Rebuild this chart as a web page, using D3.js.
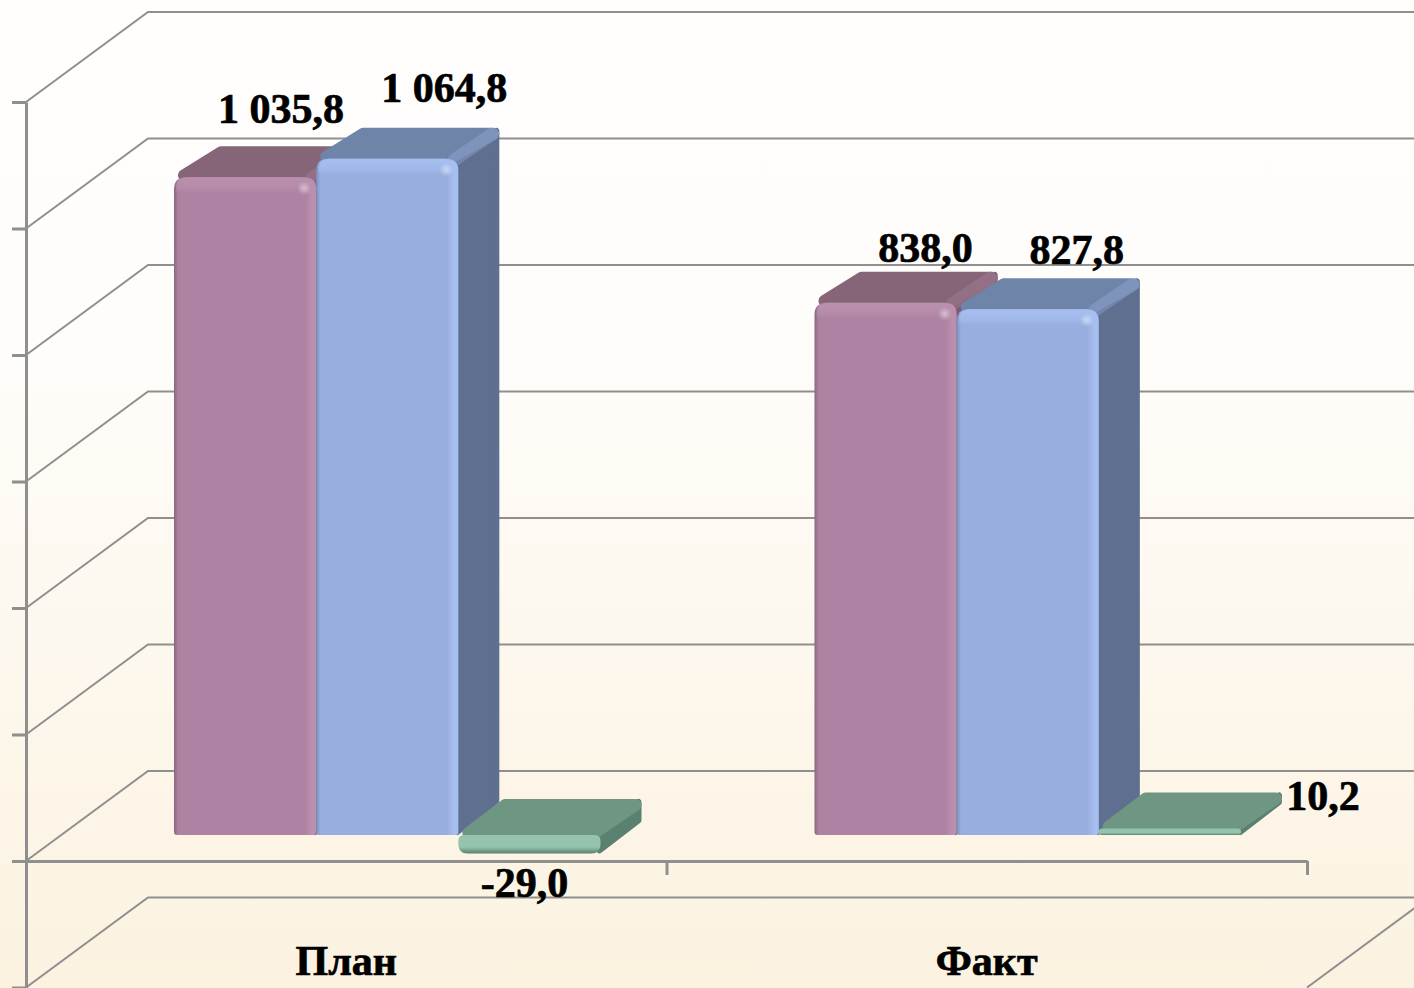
<!DOCTYPE html>
<html>
<head>
<meta charset="utf-8">
<script src="https://cdn.jsdelivr.net/npm/d3@7"></script>
<style>
  html, body { margin: 0; padding: 0; background: #fff; overflow: hidden; }
  svg { display: block; }
  text { font-family: "Liberation Serif", serif; font-weight: bold; font-size: 42px; fill: #000; stroke: #000; stroke-width: 0.7px; }
  .axis path, .axis line { stroke: #8f8f8f; stroke-width: 3; }
  .grid { fill: none; stroke: #8f8f8f; stroke-width: 2; }
</style>
</head>
<body>
<svg id="chart" width="1414" height="988"></svg>
<script>
// Values
const categories = ['План', 'Факт'];
const seriesNames = ['a', 'b', 'c'];
const planValues = [1035.8, 1064.8, -29.0];
const factValues = [838.0, 827.8, 10.2];
const valuesByCategory = [planValues, factValues];
const labelTexts = [['1 035,8', '1 064,8', '-29,0'], ['838,0', '827,8', '10,2']];
const wallTicks = [-200, 0, 200, 400, 600, 800, 1000, 1200];

// Look of each series
const palette = [
  { front: '#ad82a2', light: '#bb8fae', top: '#866579', side: '#7a5c70', dark: '#8a6680' },
  { front: '#98aede', light: '#a6bef0', top: '#6f84a9', side: '#5f6f8f', dark: '#7a8fbc' },
  { front: '#95c4ae', light: '#a0d0b9', top: '#6e9683', side: '#5a8070', dark: '#75a08c' }
];

// Label shifts: x from the centre of the front face, y from the top of the bar's back edge
// (from the bottom of the front face for the negative bar)
const labelShift = [
  [[36, -23], [57, -26], [-5, 44]],
  [[40, -10], [49, -14], [153, 17]]
];

const width = 1414, height = 988;
const wallLeft = 26, wallRight = 1307;
const wallDepth = { x: 122, y: 90 };
const barDepth = { x: 41, y: [31, 31, 36] };
const barShift = 41;

const svg = d3.select('#chart');
const defs = svg.append('defs');

// Background
const bg = defs.append('linearGradient').attr('id', 'bg').attr('x1', 0).attr('y1', 0).attr('x2', 0).attr('y2', 1);
bg.append('stop').attr('offset', '0%').attr('stop-color', '#fffefd');
bg.append('stop').attr('offset', '35%').attr('stop-color', '#fffdfa');
bg.append('stop').attr('offset', '100%').attr('stop-color', '#fbf2e0');
svg.append('rect').attr('width', width).attr('height', height).attr('fill', 'url(#bg)');

// Scales
const yWall = d3.scaleLinear().domain([-200, 1200]).range([987.5, 102]);
const yBar = d3.scaleLinear().domain([0, 1200]).range([835, 73]);
const xEdge = d3.scaleLinear().domain([0, categories.length]).range([wallLeft, wallRight]);
const xCat = d3.scaleBand().domain(categories).range([wallLeft, wallRight]);
const xSeries = d3.scaleBand().domain(seriesNames).range([107, xCat.bandwidth() - 107]);

// Gradients for the bevelled front faces
palette.forEach((c, i) => {
  const g = defs.append('linearGradient').attr('id', `front${i}`).attr('x1', 0).attr('x2', 1).attr('y1', 0).attr('y2', 0);
  [[0, c.dark], [0.03, c.front], [0.92, c.front], [0.97, c.light], [1, c.light]].forEach(s => {
    g.append('stop').attr('offset', s[0]).attr('stop-color', s[1]);
  });
  const h = defs.append('linearGradient').attr('id', `shine${i}`).attr('x1', 0).attr('x2', 0).attr('y1', 0).attr('y2', 1);
  h.append('stop').attr('offset', 0).attr('stop-color', c.light).attr('stop-opacity', 1);
  h.append('stop').attr('offset', 0.6).attr('stop-color', c.light).attr('stop-opacity', 0.7);
  h.append('stop').attr('offset', 1).attr('stop-color', c.light).attr('stop-opacity', 0);
  const low = defs.append('linearGradient').attr('id', `low${i}`).attr('x1', 0).attr('x2', 0).attr('y1', 0).attr('y2', 1);
  low.append('stop').attr('offset', 0).attr('stop-color', c.front);
  low.append('stop').attr('offset', 0.65).attr('stop-color', c.front);
  low.append('stop').attr('offset', 1).attr('stop-color', c.side);
});
const spec = defs.append('radialGradient').attr('id', 'spec');
spec.append('stop').attr('offset', 0).attr('stop-color', '#fff').attr('stop-opacity', 0.45);
spec.append('stop').attr('offset', 1).attr('stop-color', '#fff').attr('stop-opacity', 0);

// Walls and floor
wallTicks.forEach(v => {
  const y = yWall(v);
  const pts = [[wallLeft, y], [wallLeft + wallDepth.x, y - wallDepth.y], [wallRight + wallDepth.x, y - wallDepth.y]];
  if (v === -200) pts.push([wallRight, y]);
  svg.append('path').attr('class', 'grid').attr('d', d3.line()(pts));
});

svg.append('g').attr('class', 'axis')
  .attr('transform', `translate(${wallLeft},0)`)
  .call(d3.axisLeft(yWall).tickValues(wallTicks).tickSizeInner(14).tickSizeOuter(0).tickFormat(''));

svg.append('g').attr('class', 'axis')
  .attr('transform', `translate(0,${yWall(0)})`)
  .call(d3.axisBottom(xEdge).tickValues(d3.range(categories.length + 1)).tickSizeInner(14).tickSizeOuter(0).tickFormat(''));

// Faces get round corners from a thick stroke of their own colour
function face(pts, color, r) {
  const cx = d3.mean(pts, p => p[0]), cy = d3.mean(pts, p => p[1]);
  const inset = pts.map(p => [p[0] + Math.sign(cx - p[0]) * r, p[1] + Math.sign(cy - p[1]) * r]);
  svg.append('path')
    .attr('d', d3.line()(inset) + 'Z')
    .attr('fill', color)
    .attr('stroke', color)
    .attr('stroke-width', r * 2)
    .attr('stroke-linejoin', 'round');
}

// Front face outline, top and bottom corners rounded separately
function frontPath(x, y, w, h, rt, rb) {
  const p = d3.path();
  p.moveTo(x + rt, y);
  p.lineTo(x + w - rt, y);
  p.quadraticCurveTo(x + w, y, x + w, y + rt);
  p.lineTo(x + w, y + h - rb);
  p.quadraticCurveTo(x + w, y + h, x + w - rb, y + h);
  p.lineTo(x + rb, y + h);
  p.quadraticCurveTo(x, y + h, x, y + h - rb);
  p.lineTo(x, y + rt);
  p.quadraticCurveTo(x, y, x + rt, y);
  p.closePath();
  return p.toString();
}

function drawBar(category, value, si) {
  const c = palette[si];
  const x = xCat(category) + xSeries(seriesNames[si]) + barShift;
  const w = xSeries.bandwidth();
  const yTop = yBar(Math.max(value, 0));
  const yBase = yBar(Math.min(value, 0));
  const h = yBase - yTop;
  const tall = h > 100;
  const dx = barDepth.x, dy = barDepth.y[si];

  // side
  face([[x + w - 4, yTop], [x + w + dx, yTop - dy], [x + w + dx, yBase - dy], [x + w - 4, yBase]], c.side, 3);
  // top
  face([[x + 4, yTop + 4], [x + w, yTop + 4], [x + w + dx, yTop - dy], [x + dx, yTop - dy]], c.top, 6);
  // lighter bevel along the right of the top
  if (tall) {
    svg.append('line')
      .attr('x1', x + w - 4).attr('y1', yTop + 1)
      .attr('x2', x + w + dx - 7).attr('y2', yTop - dy + 6)
      .attr('stroke', c.light).attr('stroke-opacity', 0.28)
      .attr('stroke-width', 13).attr('stroke-linecap', 'round');
  }
  // front
  const rt = tall ? 12 : Math.min(6, h / 2);
  const rb = tall ? 3 : Math.min(10, h / 2);
  svg.append('path')
    .attr('d', frontPath(x, yTop, w, h, rt, rb))
    .attr('fill', tall ? `url(#front${si})` : `url(#low${si})`);
  if (tall) {
    svg.append('path')
      .attr('d', frontPath(x + 2, yTop, w - 4, 16, rt, 0))
      .attr('fill', `url(#shine${si})`);
    svg.append('circle')
      .attr('cx', x + w - 12).attr('cy', yTop + 11).attr('r', 7)
      .attr('fill', 'url(#spec)');
  }
}

categories.forEach((category, ci) => {
  valuesByCategory[ci].forEach((value, si) => drawBar(category, value, si));
});

// Data labels
categories.forEach((category, ci) => {
  valuesByCategory[ci].forEach((value, si) => {
    const cx = xCat(category) + xSeries(seriesNames[si]) + barShift + xSeries.bandwidth() / 2;
    const anchorY = value < 0 ? yBar(value) : yBar(value) - barDepth.y[si];
    svg.append('text')
      .attr('x', cx + labelShift[ci][si][0])
      .attr('y', anchorY + labelShift[ci][si][1])
      .attr('text-anchor', 'middle')
      .text(labelTexts[ci][si]);
  });
});

// Category names
svg.selectAll('.cat').data(categories).join('text')
  .attr('class', 'cat')
  .attr('x', d => xCat(d) + xCat.bandwidth() / 2)
  .attr('y', 975)
  .attr('text-anchor', 'middle')
  .text(d => d);
</script>
</body>
</html>
